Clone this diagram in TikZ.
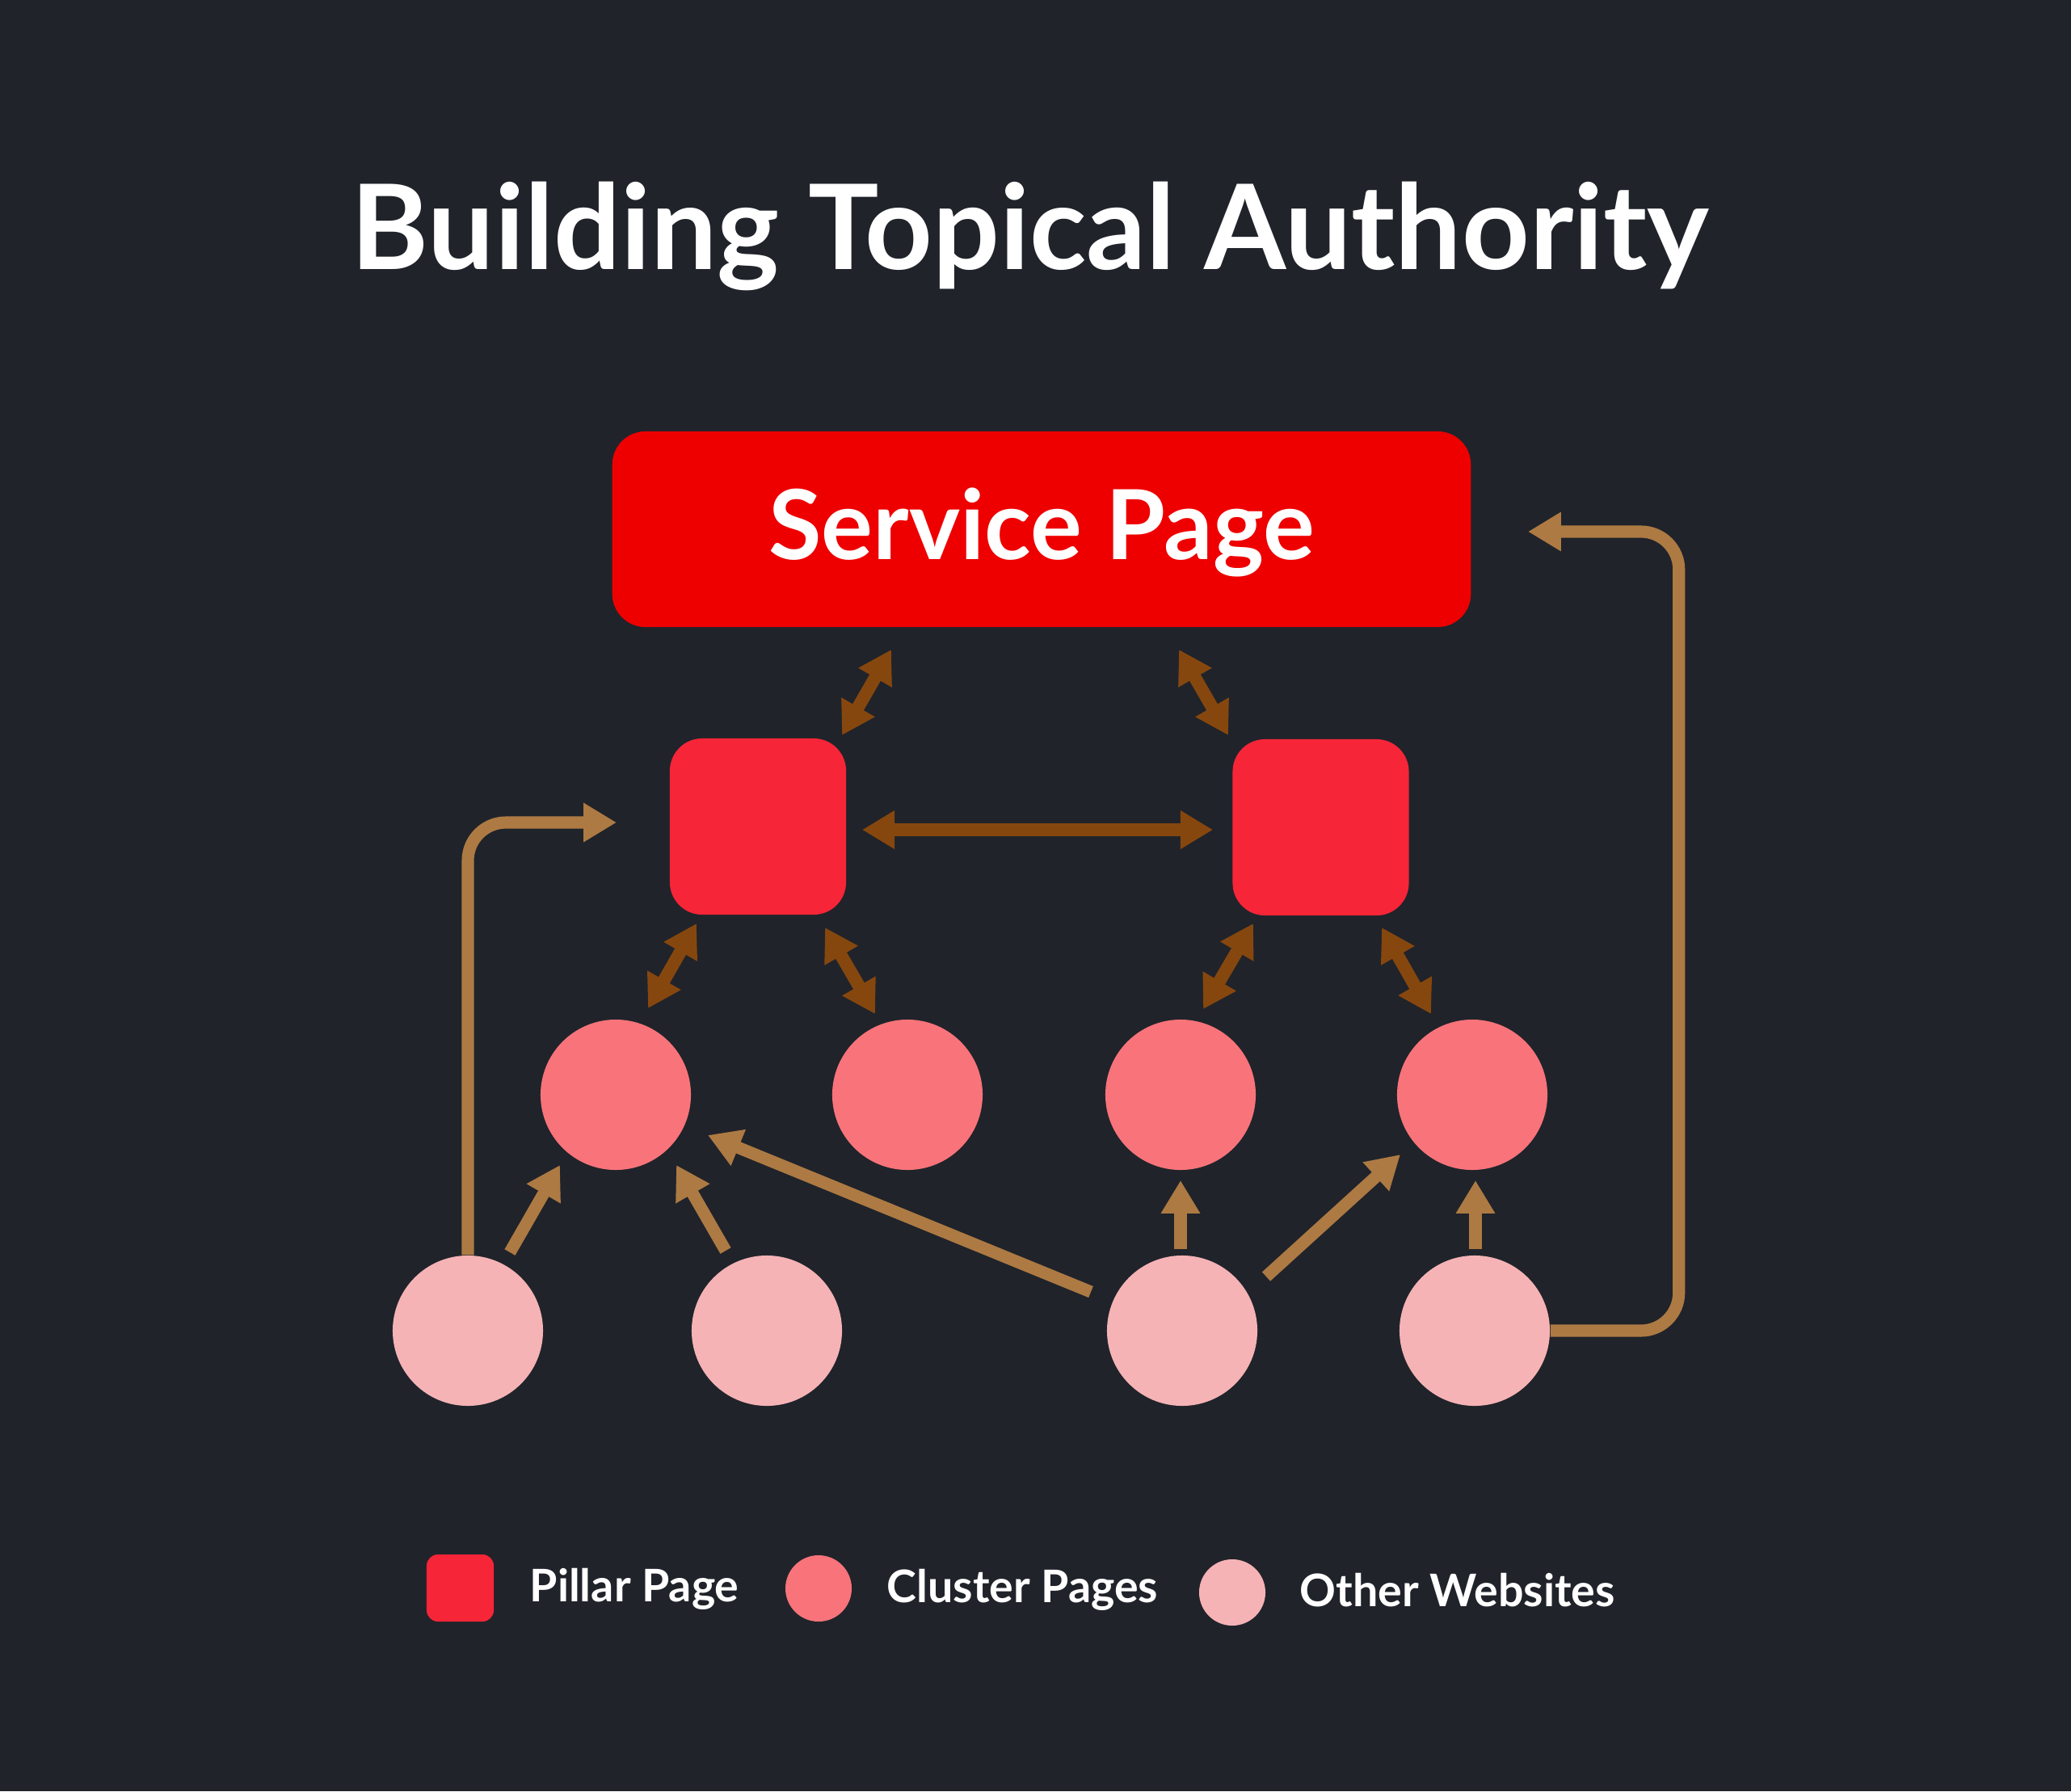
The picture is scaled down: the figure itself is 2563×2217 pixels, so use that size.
\documentclass[tikz,border=0pt]{standalone}
\usepackage{fontspec}
\setmainfont{Lato}
\usetikzlibrary{arrows.meta}
\definecolor{bgc}{HTML}{20232A}
\definecolor{svc}{HTML}{EE0000}
\definecolor{pil}{HTML}{F72538}
\definecolor{clu}{HTML}{F8747A}
\definecolor{oth}{HTML}{F5B3B6}
\definecolor{dbr}{HTML}{86470E}
\definecolor{lbr}{HTML}{AD7A43}
\begin{document}
\begin{tikzpicture}[x=0.01cm,y=-0.01cm,
  pillar/.style={rectangle, rounded corners=0.4cm, fill=pil, minimum size=2.18cm, inner sep=0pt},
  cluster/.style={circle, fill=clu, minimum size=1.86cm, inner sep=0pt},
  other/.style={circle, fill=oth, minimum size=1.86cm, inner sep=0pt},
  dlink/.style={draw=dbr, line width=4.5pt, {Triangle[length=11.4pt,width=12.8pt]}-{Triangle[length=11.4pt,width=12.8pt]}},
  llink/.style={draw=lbr, line width=4.3pt, -{Triangle[length=11.6pt,width=13pt]}},
  legtext/.style={anchor=base west, inner sep=0pt, text=white, font=\bfseries\fontsize{15.8}{18}\selectfont}
]
\fill[bgc] (0,0) rectangle (2563,2217);
\useasboundingbox (0,0) rectangle (2563,2217);

% title
\node[anchor=base, inner sep=0pt, text=white, font=\bfseries\fontsize{41.5}{48}\selectfont] (title) at (1275,333) {Building Topical Authority};

% service page
\node[rectangle, rounded corners=0.41cm, fill=svc, minimum width=10.62cm, minimum height=2.42cm, inner sep=0pt,
  text=white, font=\bfseries\fontsize{34}{40}\selectfont, text height=24.2pt, text depth=3pt] (svc) at (1289,655) {Service Page};

% pillars
\node[pillar] (p1) at (938,1023) {};
\node[pillar] (p2) at (1634.5,1024) {};

% clusters
\node[cluster] (c1) at (762,1355) {};
\node[cluster] (c2) at (1123,1355) {};
\node[cluster] (c3) at (1461,1355) {};
\node[cluster] (c4) at (1822,1355) {};

% other websites
\node[other] (o1) at (579,1647) {};
\node[other] (o2) at (949,1647) {};
\node[other] (o3) at (1463,1647) {};
\node[other] (o4) at (1825,1647) {};

% connector end points
\coordinate (a1s) at (1103,804);  \coordinate (a1e) at (1042,910);
\coordinate (a2s) at (1459,804);  \coordinate (a2e) at (1520,910);
\coordinate (a3s) at (1067,1027); \coordinate (a3e) at (1501,1027);
\coordinate (a4s) at (862,1143);  \coordinate (a4e) at (802,1248);
\coordinate (a5s) at (1021,1148); \coordinate (a5e) at (1083,1255);
\coordinate (a6s) at (1551,1143); \coordinate (a6e) at (1489,1249);
\coordinate (a7s) at (1710,1148); \coordinate (a7e) at (1771,1255);

\coordinate (b1s) at (631,1550);  \coordinate (b1e) at (693,1442);
\coordinate (b2s) at (898,1548);  \coordinate (b2e) at (837,1442);
\coordinate (b3s) at (1350,1599); \coordinate (b3e) at (876,1405);
\coordinate (b4s) at (1461,1546); \coordinate (b4e) at (1461,1461);
\coordinate (b5s) at (1567,1580); \coordinate (b5e) at (1733,1429);
\coordinate (b6s) at (1826,1546); \coordinate (b6e) at (1826,1461);

\coordinate (ltip) at (763,1018);
\coordinate (rtip) at (1891,658);

% dark double arrows
\draw[dlink] (a1s) -- (a1e);
\draw[dlink] (a2s) -- (a2e);
\draw[dlink] (a3s) -- (a3e);
\draw[dlink] (a4s) -- (a4e);
\draw[dlink] (a5s) -- (a5e);
\draw[dlink] (a6s) -- (a6e);
\draw[dlink] (a7s) -- (a7e);

% light arrows
\draw[llink] (b1s) -- (b1e);
\draw[llink] (b2s) -- (b2e);
\draw[llink] (b3s) -- (b3e);
\draw[llink] (b4s) -- (b4e);
\draw[llink] (b5s) -- (b5e);
\draw[llink] (b6s) -- (b6e);

\draw[llink, rounded corners=0.47cm] (o1.north) |- (ltip);
\draw[llink, rounded corners=0.47cm] (o4.east) -- ++(159,0) |- (rtip);

% legend
\node[rectangle, rounded corners=0.14cm, fill=pil, minimum size=0.83cm, inner sep=0pt] (lp) at (569.5,1965.5) {};
\node[legtext] (lpt) at (655,1982) {Pillar Page};
\node[circle, fill=clu, minimum size=0.82cm, inner sep=0pt] (lc) at (1013,1966) {};
\node[legtext] (lct) at (1097,1983) {Cluster Pages};
\node[circle, fill=oth, minimum size=0.82cm, inner sep=0pt] (lo) at (1525,1971) {};
\node[legtext] (lot) at (1608,1988) {Other Websites};
\end{tikzpicture}
\end{document}
